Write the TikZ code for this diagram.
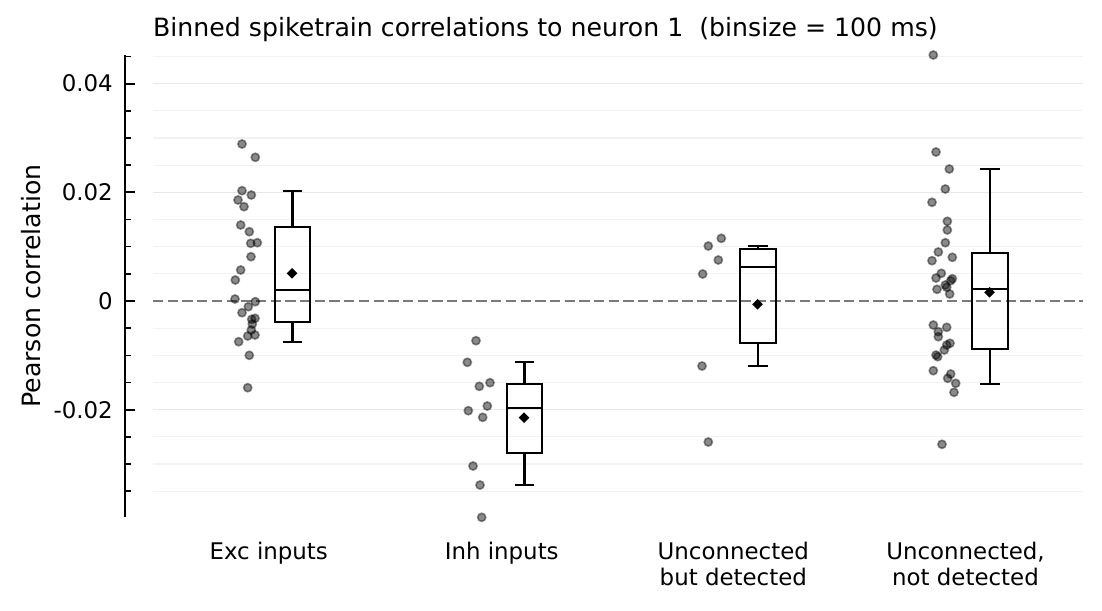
\documentclass[tikz,border=0pt]{standalone}
\usepackage{fontspec}
\setmainfont{DejaVu Sans}
\begin{document}
\begin{tikzpicture}[x=1pt,y=-1pt,
  lbl/.style={font=\fontsize{22.9}{27}\selectfont, inner sep=0pt},
  biglbl/.style={font=\fontsize{25.2}{30}\selectfont, inner sep=0pt},
  dot/.style={fill=black, fill opacity=0.46, draw=black, draw opacity=0.42, line width=1.6pt},
  boxline/.style={line width=2.2pt, black},
  majgrid/.style={draw=black!9, line width=1.1pt},
  mingrid/.style={draw=black!5, line width=1.1pt},
  zeroline/.style={draw=black!52, line width=2.4pt, dash pattern=on 10.3pt off 4.4pt},
  meanmark/.style={fill=black, draw=none}
]
\useasboundingbox (0,0) rectangle (1102,610);
% grid
\foreach \v in {0.045,0.035,0.03,0.025,0.015,0.01,0.005,-0.005,-0.01,-0.015,-0.025,-0.03,-0.035}{
  \pgfmathsetmacro\yy{301-\v*5435}
  \draw[mingrid] (153,\yy) -- (1083,\yy);
}
\foreach \v in {0.04,0.02,-0.02}{
  \pgfmathsetmacro\yy{301-\v*5435}
  \draw[majgrid] (153,\yy) -- (1083,\yy);
}
% zero line
\coordinate (z0) at (153,301);
\coordinate (z1) at (1083,301);
\draw[zeroline] (z0) -- (z1);
% axis spine
\coordinate (ax0) at (125,55);
\coordinate (ax1) at (125,517);
\draw[line width=2.2pt] (ax0) -- (ax1);
\foreach \v in {0.045,0.035,0.03,0.025,0.015,0.01,0.005,-0.005,-0.01,-0.015,-0.025,-0.03,-0.035}{
  \pgfmathsetmacro\yy{301-\v*5435}
  \draw[line width=1.6pt] (125,\yy) -- (130.5,\yy);
}
\foreach \v/\t in {0.04/0.04,0.02/0.02,0/0,-0.02/-0.02}{
  \pgfmathsetmacro\yy{301-\v*5435}
  \draw[line width=2.2pt] (125,\yy) -- (135,\yy);
  \node[lbl, anchor=east] (tick\t) at (113,\yy) {\t};
}
% labels
\node[biglbl, anchor=base west] (title) at (153,36.5) {Binned spiketrain correlations to neuron 1\ \ (binsize = 100 ms)};
\node[biglbl, anchor=base, rotate=90] (ylabel) at (40.5,286) {Pearson correlation};
\node[lbl, anchor=base] (c1) at (268.7,559) {Exc inputs};
\node[lbl, anchor=base] (c2) at (501.7,559) {Inh inputs};
\node[lbl, anchor=base] (c3) at (733.3,559) {Unconnected};
\node[lbl, anchor=base] (c3b) at (733.3,585) {but detected};
\node[lbl, anchor=base] (c4) at (965.5,559) {Unconnected,};
\node[lbl, anchor=base] (c4b) at (965.5,585) {not detected};
% dots
\foreach \p in {(242,144),(255.3,157.3),(242,190.7),(251.3,195),(238,200),(244,206.7),(240.7,225),(249.3,231.7),(250.7,243.3),(257.3,242.7),(251,256.7),(240.7,270),(235.3,280),(235,299),(255.3,301.7),(248.3,306.7),(242,312.7),(255,318.3),(251.7,319.3),(252.3,324),(251.3,330),(247.7,336),(255,335),(238.7,341.7),(249.3,355.3),(247.7,387.7),
 (476,340.7),(467.3,362.3),(490,382.7),(479.3,386.3),(487.3,406),(468.3,410.7),(482.7,417.3),(473,466),(480,485),(481.7,517.3),
 (721.3,238.3),(708.3,246),(718.3,260),(702.7,274),(702,366),(708.3,442),
 (933.3,55),(936,152),(949.3,169),(945.3,189),(932,202.3),(947.3,221.3),(947.3,230),(945.3,242.7),(938.3,252),(932,260.7),(952.3,257.3),(941.3,273.3),(936,278),(952.3,278.7),(950.7,280.7),(945.3,285),(937,289.3),(946.7,287.3),(949.7,294),(933.3,325),(946.7,327.3),(938.3,331.7),(938.3,336.7),(950,343.3),(946.7,345),(944.3,350),(936,355),(937.7,356.7),(933.3,370.7),(950.7,374),(947.7,378.3),(955.7,383.3),(954,392.3),(942,444.3)}{
  \path[dot] \p circle (4.1pt);
}
% box plots: center, whisker top, box top, median, box bottom, whisker bottom, mean
\foreach \c/\wt/\bt/\md/\bb/\wb/\mn in {292.5/191/227/290/322/342/273.3, 524.5/362.3/384/407.7/453.3/485/417.7, 758/246/249.3/267.3/343.3/366/304.3, 990/169/252.7/288.7/349.3/384/292.3}{
  \draw[boxline] (\c-17.8,\bt) rectangle (\c+17.8,\bb);
  \draw[boxline] (\c-17.8,\md) -- (\c+17.8,\md);
  \draw[boxline] (\c,\bt) -- (\c,\wt);
  \draw[boxline] (\c,\bb) -- (\c,\wb);
  \draw[boxline] (\c-9.6,\wt) -- (\c+9.6,\wt);
  \draw[boxline] (\c-9.6,\wb) -- (\c+9.6,\wb);
  \fill[meanmark] (\c-0.5,\mn-5.3) -- (\c+4.8,\mn) -- (\c-0.5,\mn+5.3) -- (\c-5.8,\mn) -- cycle;
}
\end{tikzpicture}
\end{document}
